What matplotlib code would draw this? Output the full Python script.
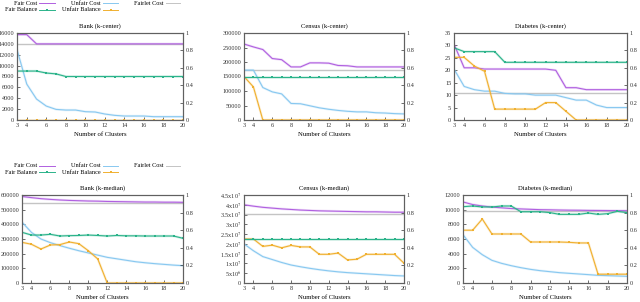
import matplotlib
matplotlib.use("Agg")
import matplotlib.pyplot as plt
from matplotlib.lines import Line2D
from matplotlib.ticker import FixedLocator, FixedFormatter

# ----------------------------
# Data
# ----------------------------
clusters = list(range(3, 21))

# Bank (k-center)
bank_kc_fair = [15700, 15700] + [14000] * 16
bank_kc_unfair = [12950, 6600, 3850, 2560, 1950, 1830, 1830, 1530, 1470, 1100,
                  855, 730, 730, 730, 610, 610, 610, 610]
bank_kc_fairlet = [14000] * 18
bank_kc_fair_bal = [0.5625, 0.5625, 0.5625, 0.54, 0.53] + [0.5] * 13
bank_kc_unfair_bal = [0.0] * 18

# Census (k-center)
census_kc_fair = [262000, 252000, 243000, 212000, 208000, 183000, 183000, 197000, 197000,
                  196000, 188000, 187000, 183000, 183000, 183000, 183000, 183000, 183000]
census_kc_unfair = [172000, 172000, 112000, 97000, 90000, 57000, 56000, 49000, 42000,
                    37000, 33000, 30000, 28000, 28000, 25000, 24000, 22000, 21000]
census_kc_fairlet = [172000] * 18
census_kc_fair_bal = [0.5] * 18
census_kc_unfair_bal = [0.5, 0.38] + [0.0] * 16

# Diabetes (k-center)
diab_kc_fair = [30.5, 21, 21, 20.5, 20.5, 20.5, 20.5, 20.5, 20.5, 20.5, 20,
                13, 13, 12.2, 12.2, 12.2, 12.2, 12.2]
diab_kc_unfair = [20.5, 13.5, 12.2, 11.6, 11.6, 10.7, 10.5, 10.5, 10, 10, 10,
                  9, 8, 8, 6, 5, 5, 5]
diab_kc_fairlet = [11] * 18
diab_kc_fair_bal = [0.83, 0.786, 0.786, 0.786, 0.786] + [0.663] * 13
diab_kc_unfair_bal = [0.72, 0.72, 0.62, 0.56, 0.125, 0.125, 0.125, 0.125, 0.125,
                      0.2, 0.2, 0.1] + [0.0] * 6

# Bank (k-median)
bank_km_fair = [590000, 582000, 575000, 570000, 566000, 563000, 561000, 559000, 558000,
                556000, 555000, 554000, 553000, 552000, 552000, 551000, 551000, 550000]
bank_km_unfair = [415000, 345000, 300000, 275000, 255000, 237000, 220000, 205000, 190000,
                  175000, 165000, 155000, 145000, 138000, 132000, 127000, 122000, 118000]
bank_km_fairlet = [545000] * 18
bank_km_fair_bal = [0.576, 0.545, 0.545, 0.553, 0.534, 0.538, 0.54, 0.545, 0.54,
                    0.534, 0.54, 0.536, 0.536, 0.534, 0.534, 0.534, 0.534, 0.508]
bank_km_unfair_bal = [0.462, 0.44, 0.386, 0.432, 0.436, 0.466, 0.447, 0.367, 0.273,
                      0.0, 0.0, 0.0, 0.0, 0.0, 0.0, 0.0, 0.0, 0.0]

# Census (k-median)
census_km_fair = [4.0e7, 3.93e7, 3.87e7, 3.83e7, 3.79e7, 3.76e7, 3.73e7, 3.71e7, 3.69e7,
                  3.68e7, 3.67e7, 3.66e7, 3.65e7, 3.64e7, 3.64e7, 3.63e7, 3.62e7, 3.62e7]
census_km_unfair = [2.0e7, 1.65e7, 1.35e7, 1.2e7, 1.05e7, 9.2e6, 8.3e6, 7.5e6, 6.8e6,
                    6.2e6, 5.7e6, 5.3e6, 5.0e6, 4.7e6, 4.4e6, 4.1e6, 3.8e6, 3.6e6]
census_km_fairlet = [3.53e7] * 18
census_km_fair_bal = [0.5] * 18
census_km_unfair_bal = [0.5, 0.5, 0.416, 0.43, 0.40, 0.427, 0.41, 0.41, 0.326, 0.326,
                        0.34, 0.262, 0.27, 0.326, 0.326, 0.326, 0.326, 0.225]

# Diabetes (k-median)
diab_km_fair = [11050, 10700, 10500, 10350, 10250, 10150, 10100, 10050, 10000, 9980,
                9950, 9930, 9920, 9900, 9890, 9880, 9870, 9860]
diab_km_unfair = [6590, 4860, 3860, 3090, 2680, 2360, 2090, 1860, 1680, 1545,
                  1410, 1320, 1230, 1140, 1045, 1000, 955, 910]
diab_km_fairlet = [9860] * 18
diab_km_fair_bal = [0.867, 0.875, 0.864, 0.864, 0.875, 0.875, 0.81, 0.81, 0.81, 0.80,
                    0.78, 0.78, 0.78, 0.795, 0.78, 0.788, 0.814, 0.80]
diab_km_unfair_bal = [0.6, 0.6, 0.727, 0.557, 0.557, 0.557, 0.557, 0.466, 0.466, 0.466,
                      0.466, 0.462, 0.455, 0.455, 0.1, 0.1, 0.1, 0.1]

x_ticks = [3, 4, 6, 8, 10, 12, 14, 16, 18, 20]
census_km_ticks = [0, 5e6, 1e7, 1.5e7, 2e7, 2.5e7, 3e7, 3.5e7, 4e7, 4.5e7]
census_km_labels = ['0', r'5x10$^{6}$', r'1x10$^{7}$', r'1.5x10$^{7}$', r'2x10$^{7}$',
                    r'2.5x10$^{7}$', r'3x10$^{7}$', r'3.5x10$^{7}$', r'4x10$^{7}$',
                    r'4.5x10$^{7}$']

# ----------------------------
# Style
# ----------------------------
C_FAIR = '#b060e0'
C_UNFAIR = '#88c8f0'
C_FAIRLET = '#c4c4c4'
C_FBAL = '#2bb38a'
C_UBAL = '#f0b030'
SPINE = '#606060'
FS = 4.5

plt.rcParams['font.family'] = ['Liberation Serif', 'DejaVu Serif']
plt.rcParams['font.size'] = FS
plt.rcParams['mathtext.fontset'] = 'stix'

fig = plt.figure(figsize=(6.4, 3.02), dpi=100)


def cost_line(ax, y, color):
    # faint band under the line, like the original
    ax.plot(clusters, y, color=color, lw=1.8, alpha=0.2, solid_capstyle='butt')
    ax.plot(clusters, y, color=color, lw=0.8)


def bal_line(ax, y, color):
    ax.plot(clusters, y, color=color, lw=1.8, alpha=0.2, solid_capstyle='butt')
    ax.plot(clusters, y, color=color, lw=0.8, marker='s', ms=1.5, mew=0)


def panel(rect, title, fair, unfair, fairlet, fbal, ubal, ymax, ystep,
          ticks=None, labels=None):
    ax = fig.add_axes(rect)
    cost_line(ax, fairlet, C_FAIRLET)
    cost_line(ax, unfair, C_UNFAIR)
    cost_line(ax, fair, C_FAIR)
    ax.set_xlim(3, 20)
    ax.set_ylim(0, ymax)
    ax.set_xticks(x_ticks)
    if ticks is None:
        n = int(round(ymax / ystep))
        ax.set_yticks([i * ystep for i in range(n + 1)])
        ax.set_yticklabels([f'{i * ystep:g}' for i in range(n + 1)])
    else:
        ax.yaxis.set_major_locator(FixedLocator(ticks))
        ax.yaxis.set_major_formatter(FixedFormatter(labels))
    ax.set_title(title, fontsize=FS + 0.3, pad=4)
    ax.set_xlabel('Number of Clusters', fontsize=FS + 0.3, labelpad=3)
    ax.tick_params(direction='in', length=2, width=0.5, pad=2, labelsize=FS,
                   colors='#333333')

    ax2 = ax.twinx()
    bal_line(ax2, ubal, C_UBAL)
    bal_line(ax2, fbal, C_FBAL)
    ax2.set_ylim(0, 1)
    ax2.set_yticks([0, 0.2, 0.4, 0.6, 0.8, 1])
    ax2.set_yticklabels(['0', '0.2', '0.4', '0.6', '0.8', '1'])
    ax2.tick_params(direction='in', length=2, width=0.5, pad=2, labelsize=FS,
                    colors='#333333')
    for a in (ax, ax2):
        for s in a.spines.values():
            s.set_color(SPINE)
            s.set_linewidth(0.8)
    return ax


W, H = 640.0, 302.0


def rect(x0, x1, ytop, ybot):
    return [x0 / W, 1 - ybot / H, (x1 - x0) / W, (ybot - ytop) / H]


panel(rect(17, 183, 33, 120), 'Bank (k-center)', bank_kc_fair, bank_kc_unfair,
      bank_kc_fairlet, bank_kc_fair_bal, bank_kc_unfair_bal, 16000, 2000)
panel(rect(244, 404, 33, 120), 'Census (k-center)', census_kc_fair, census_kc_unfair,
      census_kc_fairlet, census_kc_fair_bal, census_kc_unfair_bal, 300000, 50000)
panel(rect(454, 627, 33, 120), 'Diabetes (k-center)', diab_kc_fair, diab_kc_unfair,
      diab_kc_fairlet, diab_kc_fair_bal, diab_kc_unfair_bal, 35, 5)
panel(rect(22, 183, 195, 283), 'Bank (k-median)', bank_km_fair, bank_km_unfair,
      bank_km_fairlet, bank_km_fair_bal, bank_km_unfair_bal, 600000, 100000)
panel(rect(244, 404, 195, 283), 'Census (k-median)', census_km_fair, census_km_unfair,
      census_km_fairlet, census_km_fair_bal, census_km_unfair_bal, 4.5e7, 5e6,
      census_km_ticks, census_km_labels)
panel(rect(463, 627, 195, 283), 'Diabetes (k-median)', diab_km_fair, diab_km_unfair,
      diab_km_fairlet, diab_km_fair_bal, diab_km_unfair_bal, 12000, 2000)


# ----------------------------
# Legends (gnuplot style: text, then sample)
# ----------------------------
def legend_row(ytop):
    entries = [
        ('Fair Cost', C_FAIR, 37, 39, 55, 0, False),
        ('Unfair Cost', C_UNFAIR, 101, 103, 118, 0, False),
        ('Fairlet Cost', C_FAIRLET, 163, 166, 180, 0, False),
        ('Fair Balance', C_FBAL, 37, 39, 55, 1, True),
        ('Unfair Balance', C_UBAL, 101, 103, 118, 1, True),
    ]
    for label, color, xt, x0, x1, row, mk in entries:
        y = 1 - (ytop + row * 6.5) / H
        fig.text(xt / W, y, label, ha='right', va='center', fontsize=FS)
        fig.add_artist(Line2D([x0 / W, x1 / W], [y, y], color=color, lw=0.7,
                              transform=fig.transFigure))
        if mk:
            fig.add_artist(Line2D([(x0 + x1) / 2 / W], [y], color=color, marker='s',
                                  ms=1.5, mew=0, transform=fig.transFigure))


legend_row(3.2)
legend_row(165.7)

fig.savefig('out.png', dpi=100)
